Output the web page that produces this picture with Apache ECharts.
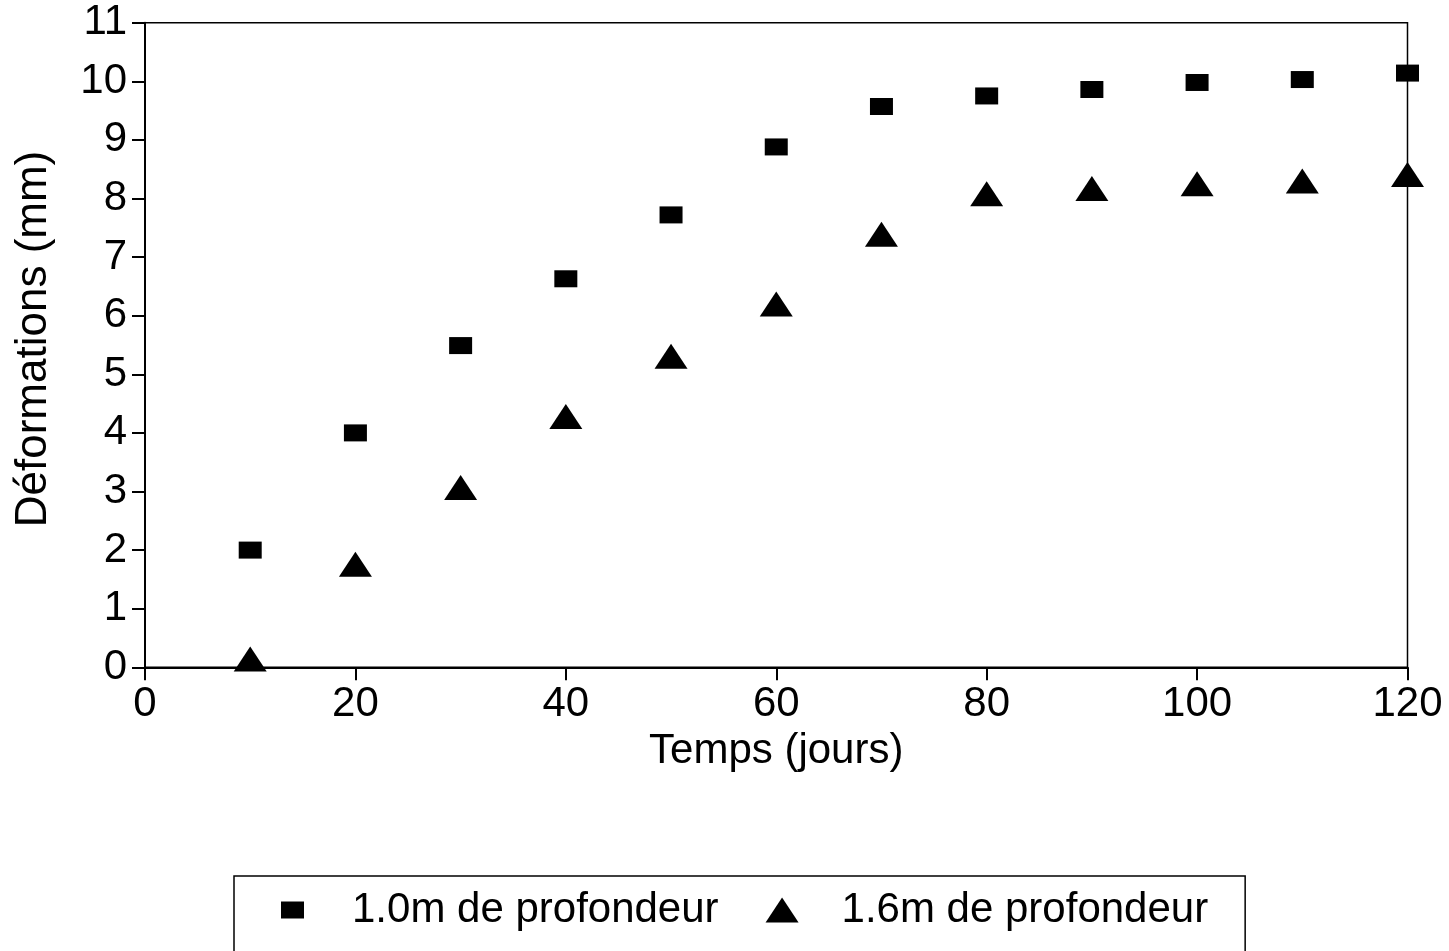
<!DOCTYPE html>
<html>
<head>
<meta charset="utf-8">
<style>
  html, body { margin: 0; padding: 0; background: #fff; }
  #chart { width: 1449px; height: 951px; }
</style>
<script src="https://cdn.jsdelivr.net/npm/echarts@6/dist/echarts.min.js"></script>
</head>
<body>
<div id="chart"></div>
<script>
// Time in days
const jours = [10, 20, 30, 40, 50, 60, 70, 80, 90, 100, 110, 120];
// Settlement (mm) at 1.0 m depth
const prof10 = [2.0, 4.0, 5.49, 6.63, 7.72, 8.88, 9.57, 9.75, 9.86, 9.98, 10.03, 10.14];
// Settlement (mm) at 1.6 m depth
const prof16 = [0.14, 1.76, 3.07, 4.28, 5.31, 6.2, 7.39, 8.08, 8.17, 8.25, 8.30, 8.41];

const seriesNames = ['1.0m de profondeur', '1.6m de profondeur'];
const xTitle = 'Temps (jours)';
const yTitle = 'Déformations (mm)';

const FONT = 'Liberation Sans';
const FS = 42;

const pairs = (xs, ys) => xs.map((x, i) => [x, ys[i]]);

const chart = echarts.init(document.getElementById('chart'), null, { renderer: 'canvas' });

chart.setOption({
  backgroundColor: '#ffffff',
  animation: false,
  textStyle: { fontFamily: FONT, color: '#000' },
  grid: {
    left: 145, top: 22.7, right: 41.5, bottom: 283.7,
    show: true, borderColor: '#000', borderWidth: 1.5, backgroundColor: 'transparent'
  },
  xAxis: {
    type: 'value', min: 0, max: 120, interval: 20,
    name: xTitle, nameLocation: 'middle', nameGap: 61,
    nameTextStyle: { fontFamily: FONT, fontSize: FS, color: '#000' },
    axisLine: { lineStyle: { color: '#000', width: 2 } },
    axisTick: { inside: false, length: 13, lineStyle: { color: '#000', width: 2 } },
    axisLabel: { fontFamily: FONT, fontSize: FS, color: '#000', margin: 16 },
    splitLine: { show: false }
  },
  yAxis: {
    type: 'value', min: 0, max: 11, interval: 1,
    name: yTitle, nameLocation: 'middle', nameGap: 89,
    nameTextStyle: { fontFamily: FONT, fontSize: 44, color: '#000', padding: [0, 0, 0, 12] },
    axisLine: { show: true, lineStyle: { color: '#000', width: 2 } },
    axisTick: { show: true, inside: false, length: 13, lineStyle: { color: '#000', width: 2 } },
    axisLabel: { fontFamily: FONT, fontSize: FS, color: '#000', margin: 18 },
    splitLine: { show: false }
  },
  legend: {
    left: 234, top: 876,
    orient: 'horizontal',
    borderColor: '#000', borderWidth: 1.5,
    padding: [13, 37, 70, 42],
    itemWidth: 33, itemHeight: 25, itemGap: 47,
    textStyle: { fontFamily: FONT, fontSize: FS, color: '#000', padding: [0, 0, 0, 38] },
    data: [
      { name: seriesNames[0], icon: 'path://M0,0M33,25M5,4h23v17h-23z' },
      { name: seriesNames[1], icon: 'triangle' }
    ]
  },
  series: [
    {
      name: seriesNames[0], type: 'scatter',
      symbol: 'rect', symbolSize: [23, 17],
      itemStyle: { color: '#000', opacity: 1 },
      data: pairs(jours, prof10)
    },
    {
      name: seriesNames[1], type: 'scatter',
      symbol: 'triangle', symbolSize: [33, 25],
      itemStyle: { color: '#000', opacity: 1 },
      data: pairs(jours, prof16)
    }
  ]
});
</script>
</body>
</html>
